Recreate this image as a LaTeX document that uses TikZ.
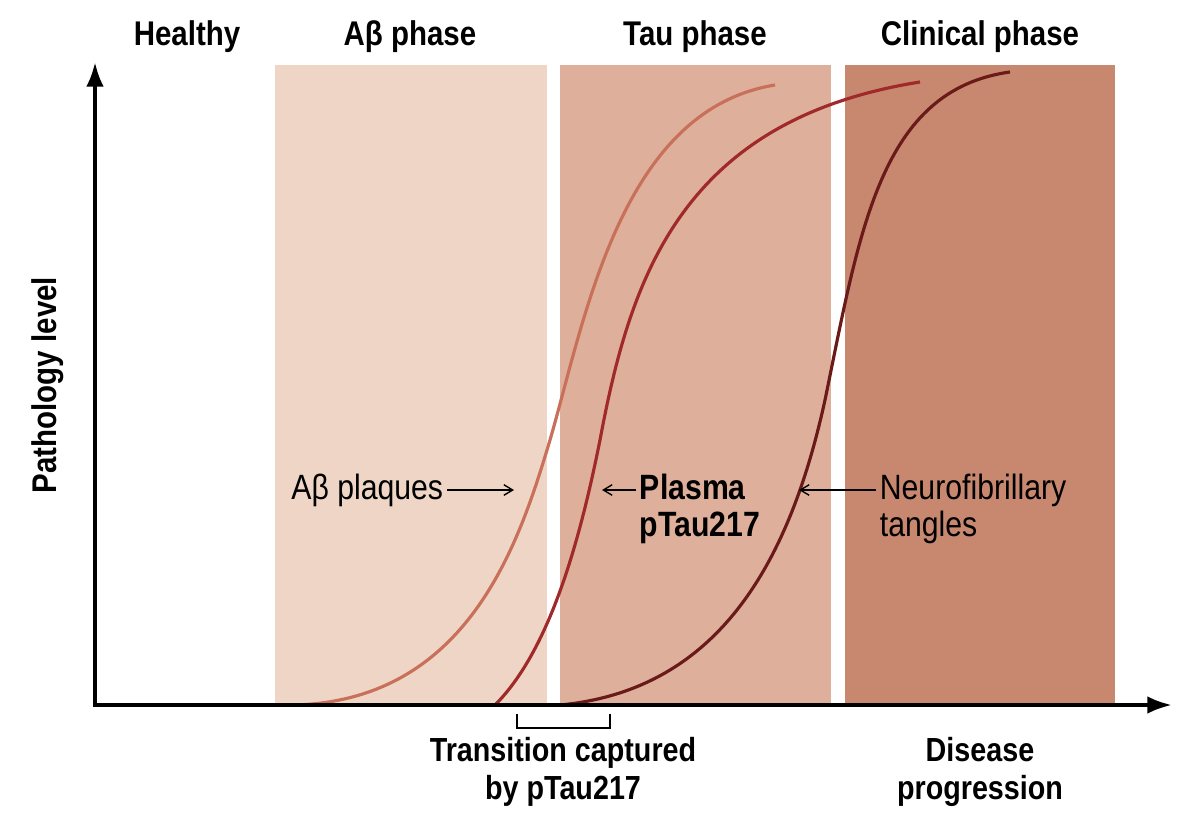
\documentclass[tikz,border=0pt]{standalone}
\usepackage{fontspec}
\setmainfont{Liberation Sans}[FakeStretch=0.86]
\usetikzlibrary{positioning,arrows.meta}
\definecolor{bandA}{HTML}{EFD5C5}
\definecolor{bandB}{HTML}{DEB09B}
\definecolor{bandC}{HTML}{C8876F}
\definecolor{curveA}{HTML}{C8705A}
\definecolor{curveB}{HTML}{A02A2A}
\definecolor{curveC}{HTML}{6B1A1A}
\tikzset{
  head/.style={font=\fontsize{19.5}{22}\selectfont\bfseries},
  lab/.style={font=\fontsize{20}{21}\selectfont, align=left, inner sep=2pt},
  axis/.style={line width=2.2pt, -{Latex[length=14pt,width=10pt]}},
  curve/.style={line width=1.8pt},
  pointer/.style={line width=0.8pt, -{Straight Barb[length=5pt,width=6pt]}}
}
\begin{document}
\begin{tikzpicture}[x=0.02cm, y=-0.02cm]
  \useasboundingbox (0,0) rectangle (1200,828);
  % Phase bands
  \fill[bandA] (275,65) rectangle (547,705);
  \fill[bandB] (560,65) rectangle (831,705);
  \fill[bandC] (845,65) rectangle (1115,705);

  % Headers
  \node[head] (healthy) at (187,37) {Healthy};
  \node[head] (abphase) at (410,37) {Aβ phase};
  \node[head] (tauphase) at (695,37) {Tau phase};
  \node[head] (clinical) at (980,37) {Clinical phase};

  % Curves
  \draw[curve, curveA] (295,705) .. controls (470,700) and (520,540) .. (550,440)
        .. controls (585,320) and (620,110) .. (775,85);
  \draw[curve, curveB] (495,705) .. controls (550,650) and (580,540) .. (600,440)
        .. controls (630,280) and (680,120) .. (920,82);
  \draw[curve, curveC] (560,705) .. controls (720,690) and (790,560) .. (825,400)
        .. controls (860,230) and (880,90) .. (1010,72);

  % Axes
  \coordinate (origin) at (93,705);
  \coordinate (xend) at (1172,705);
  \coordinate (yend) at (95,62);
  \draw[axis] (origin) -- (xend);
  \draw[axis] (95,706) -- (yend);
  \node[head, rotate=90] (ylab) at (48,385) {Pathology level};

  % Curve labels
  \node[lab, anchor=east] (abplaq) at (447,490) {Aβ plaques};
  \coordinate (abtip) at (514,490);
  \draw[pointer] (abplaq) -- (abtip);

  \node[lab, anchor=north west, font=\fontsize{20}{21}\selectfont\bfseries] (ptau) at (636,470) {Plasma\\pTau217};
  \coordinate (ptautip) at (602,490);
  \draw[pointer] (ptau.west |- ptautip) -- (ptautip);

  \node[lab, anchor=north west] (nft) at (876,470) {Neurofibrillary\\tangles};
  \coordinate (nfttip) at (799,490);
  \draw[pointer] (nft.west |- nfttip) -- (nfttip);

  % Transition bracket
  \draw[line width=1pt] (517,714) -- (517,728) -- (610,728) -- (610,714);
  \node[head, align=center, font=\fontsize{19}{22}\selectfont\bfseries] (trans) at (563,772) {Transition captured\\by pTau217};
  \node[head, align=center, font=\fontsize{19}{22}\selectfont\bfseries] (prog) at (980,772) {Disease\\progression};
\end{tikzpicture}
\end{document}
